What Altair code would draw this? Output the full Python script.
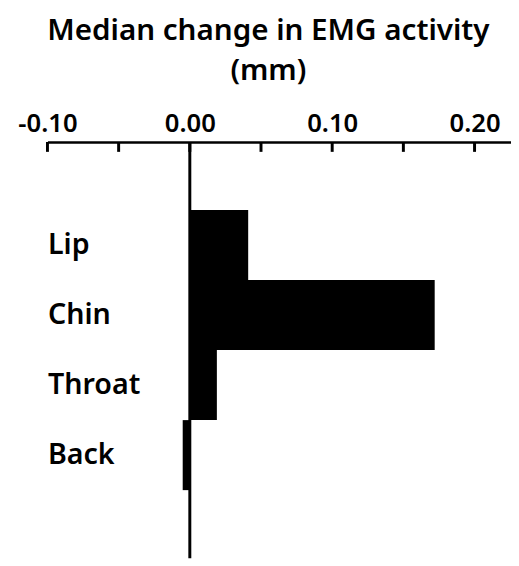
import altair as alt
import pandas as pd

muscles = ["Lip", "Chin", "Throat", "Back"]
values = [0.041, 0.172, 0.019, -0.005]
tick_values = [-0.10, -0.05, 0.00, 0.05, 0.10, 0.15, 0.20]
label_values = [-0.10, 0.00, 0.10, 0.20]
title_lines = ["Median change in EMG activity", "(mm)"]

bars_df = pd.DataFrame({"muscle": muscles, "value": values, "zero": [0.0] * len(values)})
ticks_df = pd.DataFrame({"value": tick_values})
zero_df = pd.DataFrame({"value": [0.0]})

FONT = "Noto Sans"
WEIGHT = 600

xscale = alt.Scale(domain=[-0.1, 0.2256], nice=False, zero=False)
xaxis = alt.Axis(
    orient="top", values=label_values, ticks=False, grid=False,
    labelExpr="replace(format(datum.value, '.2f'), '\u2212', '-')",
    domain=True, domainWidth=2.5, domainColor="black",
    labelFontSize=26, labelFont=FONT, labelFontWeight=WEIGHT, labelColor="black",
    labelPadding=6, labelFlush=False, labelOverlap=False, labelBound=False,
    title=None,
)

bars = alt.Chart(bars_df).mark_bar(color="black").encode(
    x=alt.X("value:Q", scale=xscale, axis=xaxis),
    x2="zero:Q",
    y=alt.Y(
        "muscle:N", sort=muscles,
        scale=alt.Scale(paddingInner=0, paddingOuter=0.972),
        axis=alt.Axis(
            orient="left", ticks=False, domain=False, grid=False, tickSize=0,
            labelAlign="left", labelPadding=0, labelFontSize=29, labelFont=FONT,
            labelFontWeight=WEIGHT, labelColor="black", title=None,
        ),
    ),
)

zero_line = alt.Chart(zero_df).mark_rule(color="black", strokeWidth=3).encode(
    x=alt.X("value:Q", scale=xscale, axis=xaxis)
)

ticks = alt.Chart(ticks_df).mark_rule(color="black", strokeWidth=3).encode(
    x=alt.X("value:Q", scale=xscale, axis=xaxis),
    y=alt.value(0),
    y2=alt.value(10),
)

chart = alt.layer(bars, zero_line, ticks).properties(
    width=470,
    height=422,
    background="white",
    autosize=alt.AutoSizeParams(type="none"),
    padding={"left": 40, "top": 132, "right": 0, "bottom": 0},
    title=alt.TitleParams(
        text=title_lines, fontSize=30, font=FONT, fontWeight=WEIGHT,
        color="black", lineHeight=40, anchor="middle", offset=25, dx=-11,
    ),
).configure_view(stroke=None)

chart.save("out.html", embed_options={"renderer": "svg", "actions": False})
